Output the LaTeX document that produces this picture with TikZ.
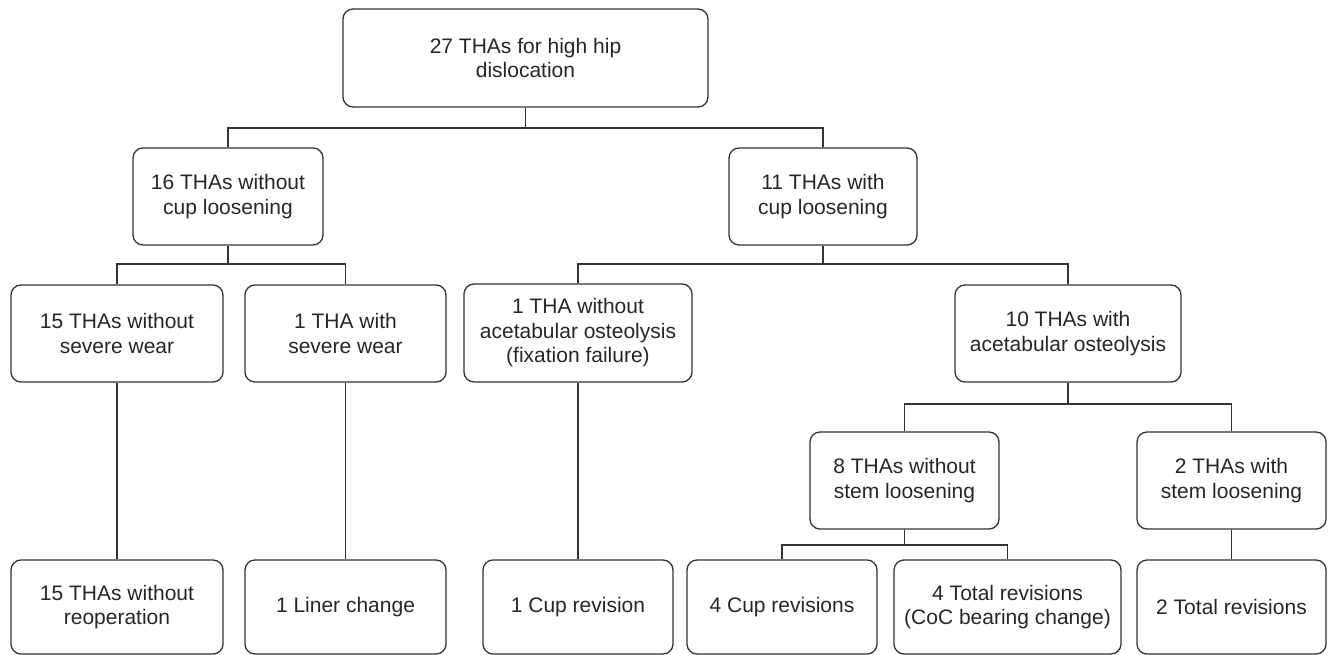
\documentclass[tikz,border=0pt]{standalone}
\usepackage{fontspec}
\setmainfont{Liberation Sans}
\definecolor{linec}{HTML}{333333}
\definecolor{textc}{HTML}{262626}
\begin{document}
\begin{tikzpicture}[x=1pt,y=-1pt,
  box/.style={draw=linec,line width=1.3pt,rounded corners=10pt,align=center,
    inner sep=0pt,text=textc,font=\fontsize{21}{24.5}\selectfont},
  conn/.style={draw=linec,line width=1.3pt}]
\useasboundingbox (0,0) rectangle (1328,655);
% level 0
\node[box,minimum width=365pt,minimum height=98pt] (root) at (525.5,58) {27 THAs for high hip\\dislocation};
% level 1
\node[box,minimum width=190pt,minimum height=97pt] (n16) at (228,196.5) {16 THAs without\\cup loosening};
\node[box,minimum width=188pt,minimum height=97pt] (n11) at (823,196.5) {11 THAs with\\cup loosening};
% level 2
\node[box,minimum width=212pt,minimum height=97pt] (n15s) at (117,333.5) {15 THAs without\\severe wear};
\node[box,minimum width=201pt,minimum height=97pt] (n1s) at (345.5,333.5) {1 THA with\\severe wear};
\node[box,minimum width=228pt,minimum height=98pt] (n1w) at (578,333) {1 THA without\\acetabular osteolysis\\(fixation failure)};
\node[box,minimum width=226pt,minimum height=97pt] (n10) at (1068,333.5) {10 THAs with\\acetabular osteolysis};
% level 3
\node[box,minimum width=189pt,minimum height=97pt] (n8) at (904.5,480.5) {8 THAs without\\stem loosening};
\node[box,minimum width=189pt,minimum height=97pt] (n2s) at (1231.5,480.5) {2 THAs with\\stem loosening};
% bottom row
\node[box,minimum width=212pt,minimum height=94pt] (r15) at (117,607) {15 THAs without\\reoperation};
\node[box,minimum width=201pt,minimum height=94pt] (rl) at (345.5,607) {1 Liner change};
\node[box,minimum width=190pt,minimum height=94pt] (r1c) at (578,607) {1 Cup revision};
\node[box,minimum width=190pt,minimum height=94pt] (r4c) at (782,607) {4 Cup revisions};
\node[box,minimum width=227pt,minimum height=94pt] (r4t) at (1007.5,607) {4 Total revisions\\(CoC bearing change)};
\node[box,minimum width=189pt,minimum height=94pt] (r2t) at (1231.5,607) {2 Total revisions};
% bus points
\coordinate (b0) at (525.5,128);
\coordinate (b16) at (228,264);
\coordinate (b11) at (823,264);
\coordinate (b10) at (1068,404);
\coordinate (b8) at (904.5,545);
% connectors
\draw[conn] (root.south) -- (b0) -| (n16.north);
\draw[conn] (b0) -| (n11.north);
\draw[conn] (n16.south) -- (b16) -| (n15s.north);
\draw[conn] (b16) -| (n1s.north);
\draw[conn] (n11.south) -- (b11) -| (n1w.north);
\draw[conn] (b11) -| (n10.north);
\draw[conn] (n10.south) -- (b10) -| (n8.north);
\draw[conn] (b10) -| (n2s.north);
\draw[conn] (n8.south) -- (b8) -| (r4c.north);
\draw[conn] (b8) -| (r4t.north);
\draw[conn] (n15s.south) -- (r15.north);
\draw[conn] (n1s.south) -- (rl.north);
\draw[conn] (n1w.south) -- (r1c.north);
\draw[conn] (n2s.south) -- (r2t.north);
\end{tikzpicture}
\end{document}
